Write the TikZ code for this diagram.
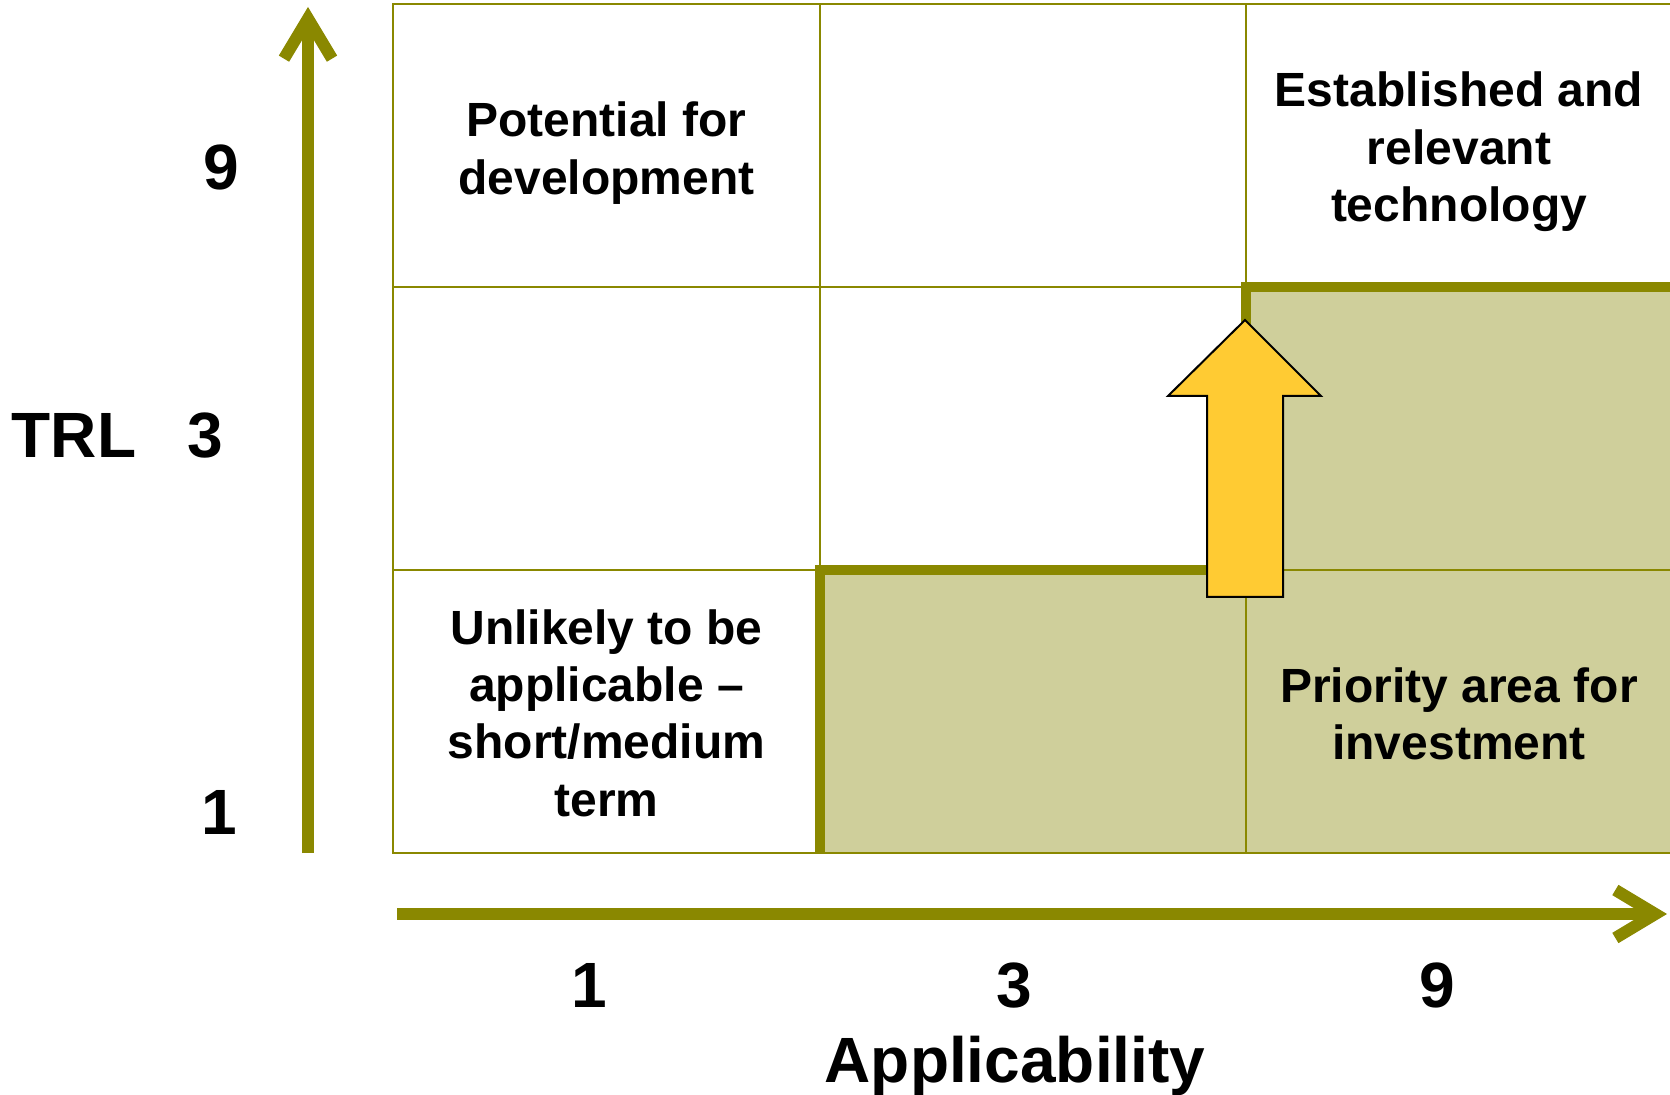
\documentclass[tikz,border=0pt]{standalone}
\usepackage{fontspec}
\setmainfont{Liberation Sans}
\usetikzlibrary{arrows.meta}

\definecolor{gridolive}{HTML}{8A8800}
\definecolor{cellfill}{HTML}{CFCF9B}
\definecolor{arrowfill}{HTML}{FFCB33}

\tikzset{
    grid line/.style={gridolive, line width=1pt},
    step line/.style={gridolive, line width=5pt},
    axis line/.style={gridolive, line width=6pt, -{Straight Barb[length=20pt, width=24pt]}},
    cell text/.style={font=\fontsize{24}{28.7}\selectfont\bfseries, align=center},
    axis label/.style={font=\fontsize{32}{38}\selectfont\bfseries, anchor=base},
}

\begin{document}
\begin{tikzpicture}[
        x=0.5pt, y=-0.5pt,
        declare function={
            xa = 393;
            xb = 820;
            xc = 1246;
            xd = 1672;
            ya = 4;
            yb = 287;
            yc = 570;
            yd = 853;
        }
    ]
        \useasboundingbox (0,0) rectangle (1670,1095);
        \clip (0,0) rectangle (1670,1095);

        % shaded cells
        \fill[cellfill] (xb,yc) -- (xc,yc) -- (xc,yb) -- (xd,yb) -- (xd,yd) -- (xb,yd) -- cycle;

        % grid
        \draw[grid line] (xa,ya) rectangle (xd,yd);
        \draw[grid line] (xb,ya) -- (xb,yd);
        \draw[grid line] (xc,ya) -- (xc,yd);
        \draw[grid line] (xa,yb) -- (xd,yb);
        \draw[grid line] (xa,yc) -- (xd,yc);

        % step border
        \draw[step line] (xb,yd) -- (xb,yc) -- (xc,yc) -- (xc,yb) -- (xd+10,yb);

        % upward arrow
        \filldraw[fill=arrowfill, draw=black, line width=1pt]
            (1245,320) -- (1321,396) -- (1283,396) -- (1283,597)
            -- (1207,597) -- (1207,396) -- (1168,396) -- cycle;

        % cell texts
        \node[cell text] (pot) at ({(xa+xb)/2}, 153) {Potential for\\development};
        \node[cell text] (est) at ({(xc+xd)/2}, 152) {Established and\\relevant\\technology};
        \node[cell text] (unl) at ({(xa+xb)/2}, 713) {Unlikely to be\\applicable –\\short/medium\\term};
        \node[cell text] (pri) at ({(xc+xd)/2}, 714) {Priority area for\\investment};

        % axes
        \coordinate (yfoot) at (308, yd);
        \coordinate (ytip) at (308, 7);
        \coordinate (xfoot) at (397, 914);
        \coordinate (xtip) at (1667, 914);
        \draw[axis line] (yfoot) -- (ytip);
        \draw[axis line] (xfoot) -- (xtip);

        % axis labels
        \node[axis label] (ynine) at (221, 190) {9};
        \node[axis label] (ythree) at (205, 458) {3};
        \node[axis label] (yone) at (219, 834) {1};
        \node[axis label] (trl) at (74, 458) {TRL};
        \node[axis label] (xone) at (589, 1007) {1};
        \node[axis label] (xthree) at (1014, 1007) {3};
        \node[axis label] (xnine) at (1437, 1007) {9};
        \node[axis label] (appl) at (1015, 1082) {Applicability};
\end{tikzpicture}
\end{document}
